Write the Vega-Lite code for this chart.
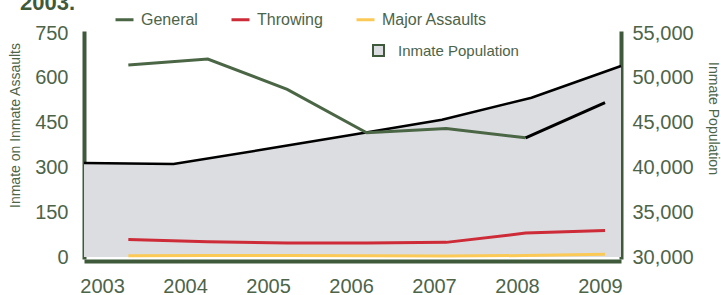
{
  "$schema": "https://vega.github.io/schema/vega-lite/v6.json",
  "width": 537,
  "height": 224,
  "autosize": "none",
  "padding": {"left": 84, "top": 33, "right": 100, "bottom": 38},
  "background": "white",
  "config": {
    "view": {"stroke": null},
    "font": "Liberation Sans",
    "axis": {
      "grid": false,
      "ticks": false,
      "tickSize": 0,
      "labelFont": "Liberation Sans",
      "titleFont": "Liberation Sans",
      "labelColor": "#4d6449",
      "titleColor": "#4d6449",
      "domainColor": "#3e5a3a",
      "domainWidth": 4,
      "labelFontSize": 20,
      "titleFontSize": 14,
      "titleFontWeight": "normal",
      "labelFlush": false,
      "labelOverlap": false
    }
  },
  "title": {
    "text": "2003.",
    "anchor": "start",
    "frame": "group",
    "fontSize": 22,
    "fontWeight": "bold",
    "color": "#3e5a3a",
    "font": "Liberation Sans",
    "dx": -64,
    "dy": 10
  },
  "datasets": {
    "population": [
      {"year": 2003, "population": 40490},
      {"year": 2004, "population": 40380},
      {"year": 2005, "population": 41990},
      {"year": 2006, "population": 43650},
      {"year": 2007, "population": 45320},
      {"year": 2008, "population": 47770},
      {"year": 2009, "population": 51320}
    ],
    "assaults": [
      {"year": 2003, "series": "General", "value": 643},
      {"year": 2004, "series": "General", "value": 663},
      {"year": 2005, "series": "General", "value": 561},
      {"year": 2006, "series": "General", "value": 416},
      {"year": 2007, "series": "General", "value": 430},
      {"year": 2008, "series": "General", "value": 399},
      {"year": 2009, "series": "General", "value": 517},
      {"year": 2003, "series": "Throwing", "value": 59},
      {"year": 2004, "series": "Throwing", "value": 51},
      {"year": 2005, "series": "Throwing", "value": 47},
      {"year": 2006, "series": "Throwing", "value": 47},
      {"year": 2007, "series": "Throwing", "value": 49},
      {"year": 2008, "series": "Throwing", "value": 80},
      {"year": 2009, "series": "Throwing", "value": 89},
      {"year": 2003, "series": "Major Assaults", "value": 4},
      {"year": 2004, "series": "Major Assaults", "value": 5},
      {"year": 2005, "series": "Major Assaults", "value": 5},
      {"year": 2006, "series": "Major Assaults", "value": 4},
      {"year": 2007, "series": "Major Assaults", "value": 3},
      {"year": 2008, "series": "Major Assaults", "value": 5},
      {"year": 2009, "series": "Major Assaults", "value": 9}
    ]
  },
  "layer": [
    {
      "data": {"name": "population"},
      "encoding": {
        "x": {"field": "year", "type": "quantitative", "scale": {"domain": [2003, 2009], "nice": false, "zero": false}, "axis": null},
        "y": {
          "field": "population",
          "type": "quantitative",
          "scale": {"domain": [30000, 55000], "nice": false, "zero": false},
          "axis": {
            "orient": "right",
            "values": [30000, 35000, 40000, 45000, 50000, 55000],
            "format": ",d",
            "labelPadding": 11,
            "domainCap": "square",
            "title": "Inmate Population",
            "titleX": 91.5,
            "titleY": 85,
            "titleAngle": 90,
            "titleAlign": "center",
            "titleBaseline": "middle"
          }
        }
      },
      "layer": [
        {
          "mark": {"type": "area"},
          "encoding": {
            "y2": {"datum": 30000},
            "fill": {
              "datum": "Inmate Population",
              "type": "nominal",
              "scale": {"range": ["#dcdde0"]},
              "legend": {
                "orient": "none",
                "legendX": 287,
                "legendY": 10,
                "title": null,
                "symbolType": "square",
                "symbolSize": 121,
                "symbolStrokeColor": "#3e5a3a",
                "symbolStrokeWidth": 2,
                "symbolFillColor": "#dcdde0",
                "labelFontSize": 15,
                "labelFont": "Liberation Sans",
                "labelColor": "#4d6449",
                "labelOffset": 12,
                "padding": 0
              }
            }
          }
        },
        {
          "mark": {"type": "line", "color": "#000000", "strokeWidth": 2.5}
        }
      ]
    },
    {
      "data": {"name": "assaults"},
      "encoding": {
        "x": {"field": "year", "type": "quantitative", "scale": {"domain": [2002.442, 2009.201], "nice": false, "zero": false}, "axis": null},
        "y": {
          "field": "value",
          "type": "quantitative",
          "scale": {"domain": [0, 750], "nice": false},
          "axis": {
            "orient": "left",
            "values": [0, 150, 300, 450, 600, 750],
            "labelPadding": 16,
            "domainCap": "square",
            "title": "Inmate on Inmate Assaults",
            "titleX": -69,
            "titleY": 92,
            "titleAngle": 270,
            "titleAlign": "center",
            "titleBaseline": "middle"
          }
        }
      },
      "layer": [
        {
          "transform": [{"filter": "datum.series != 'General' || datum.year <= 2008"}],
          "mark": {"type": "line", "strokeWidth": 3},
          "encoding": {
            "stroke": {
              "field": "series",
              "type": "nominal",
              "scale": {"domain": ["General", "Throwing", "Major Assaults"], "range": ["#4a6645", "#cd2b37", "#fbc956"]},
              "legend": {
                "orient": "none",
                "direction": "horizontal",
                "legendX": 30,
                "legendY": -24,
                "title": null,
                "symbolType": "stroke",
                "symbolSize": 324,
                "symbolStrokeWidth": 3,
                "labelFontSize": 16,
                "labelFont": "Liberation Sans",
                "labelColor": "#4d6449",
                "labelOffset": 6,
                "columnPadding": 27,
                "padding": 0
              }
            }
          }
        },
        {
          "transform": [{"filter": "datum.series == 'General' && datum.year >= 2008"}],
          "mark": {"type": "line", "strokeWidth": 3, "color": "#000000"}
        }
      ]
    },
    {
      "data": {"name": "population"},
      "mark": {"type": "point", "opacity": 0},
      "encoding": {
        "x": {
          "field": "year",
          "type": "quantitative",
          "scale": {"domain": [2002.783, 2009.253], "nice": false, "zero": false},
          "axis": {
            "orient": "bottom",
            "values": [2003, 2004, 2005, 2006, 2007, 2008, 2009],
            "format": "d",
            "offset": 4,
            "labelPadding": 15,
            "title": null
          }
        }
      }
    }
  ],
  "resolve": {"scale": {"x": "independent", "y": "independent"}}
}
